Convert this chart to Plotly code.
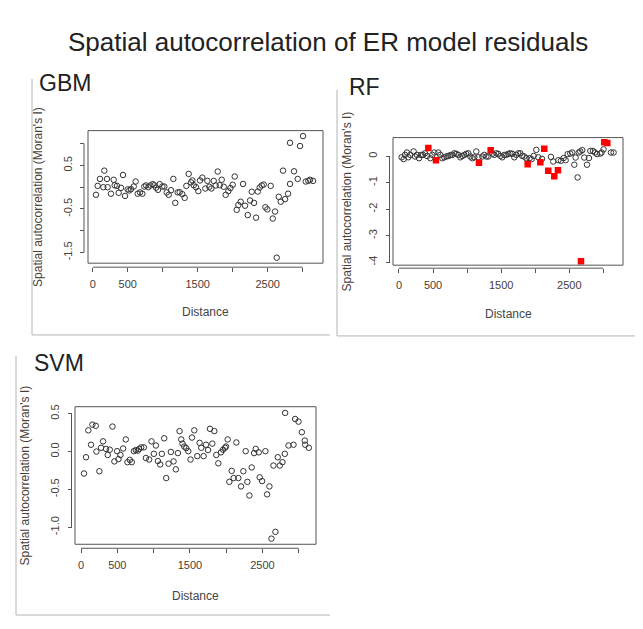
import plotly.graph_objects as go

# ---------------- data ----------------
gbm_dist = [47,71,104,152,166,204,214,261,300,314,347,371,404,433,462,500,523,547,586,614,
            643,676,709,737,762,795,823,857,880,905,933,957,995,1023,1057,1086,1119,1152,1180,1214,
            1243,1280,1314,1338,1371,1405,1424,1443,1476,1509,1533,1566,1609,1638,1666,1695,1729,1757,1786,1815,
            1843,1872,1900,1938,1967,2000,2029,2057,2081,2114,2148,2176,2215,2248,2272,2305,2334,2358,2386,2415,
            2443,2467,2495,2543,2572,2605,2629,2658,2686,2719,2748,2791,2819,2819,2876,2929,2962,3005,3044,3081,
            3105,3148]
gbm_moran = [-0.175,0.03,0.19,0.0,0.38,0.19,0.0,-0.15,0.17,0.045,0.03,-0.13,-0.015,0.28,-0.2,-0.05,-0.075,-0.045,0.015,0.13,
             -0.15,-0.12,-0.15,0.015,0.04,0.0,0.04,0.07,0.045,-0.01,-0.06,0.07,0.015,0.015,-0.12,-0.175,-0.07,0.19,-0.36,-0.12,
             -0.115,-0.16,-0.245,0.03,0.305,0.11,0.155,0.045,0.0,-0.09,0.155,0.22,-0.03,0.145,0.01,-0.03,0.145,0.04,0.36,0.045,
             0.17,0.01,-0.175,-0.09,-0.02,0.055,0.245,-0.52,-0.41,-0.335,0.075,-0.425,-0.64,-0.305,-0.105,-0.36,-0.70,-0.1,-0.007,0.04,
             0.06,-0.46,-0.51,0.03,-0.72,-0.56,-1.62,-0.22,-0.335,0.38,-0.275,-0.15,0.075,1.02,0.365,0.19,0.945,1.175,0.13,0.145,
             0.17,0.145]

rf_dist = [39,68,88,117,137,166,215,235,264,294,323,352,382,411,460,489,519,577,607,636,
           665,695,724,754,783,812,842,871,900,930,959,988,1018,1047,1077,1106,1135,1165,1223,1253,
           1282,1311,1370,1399,1429,1458,1488,1517,1546,1576,1605,1634,1664,1693,1722,1752,1781,1810,1840,1869,
           1918,1947,1977,2016,2045,2100,2231,2265,2339,2378,2417,2447,2476,2515,2544,2574,2593,2623,2640,2662,
           2691,2720,2760,2789,2809,2848,2877,2907,2956,2975,3004,3112,3151]
rf_moran = [-0.04,-0.11,0.05,0.14,-0.04,0.05,0.18,-0.01,0.05,-0.075,0.05,0.05,0.11,0.01,-0.075,0.05,0.14,0.14,0.05,-0.075,
            -0.04,-0.01,0.01,0.04,0.05,0.11,0.09,0.05,-0.04,0.01,0.05,0.09,0.11,-0.01,-0.075,-0.04,0.18,-0.04,-0.01,0.05,
            -0.01,-0.01,0.09,0.05,0.11,0.09,0.01,-0.04,0.05,0.05,0.09,0.11,0.09,-0.04,0.05,0.11,0.11,0.01,-0.01,-0.075,
            -0.075,-0.11,0.01,0.24,-0.04,-0.1,-0.024,-0.2,-0.15,-0.17,-0.07,-0.15,0.08,0.10,0.14,-0.32,-0.05,-0.80,0.14,0.18,
            0.23,-0.05,-0.32,-0.07,0.20,0.20,0.14,0.08,0.10,0.14,0.26,0.14,0.14]
rf_sig_dist = [431,543,1174,1346,1889,2075,2133,2192,2280,2334,2672,3014,3058]
rf_sig_moran = [0.315,-0.15,-0.25,0.225,-0.30,-0.225,0.28,-0.55,-0.76,-0.525,-3.96,0.53,0.50]

svm_dist = [41,69,101,138,157,203,212,253,276,304,345,368,396,433,460,497,516,543,580,617,
            640,672,700,728,755,783,801,829,866,894,939,971,1004,1032,1059,1091,1114,1146,1174,1206,
            1238,1275,1307,1335,1358,1381,1399,1422,1450,1478,1509,1529,1561,1602,1634,1657,1689,1722,1750,1777,
            1809,1837,1864,1892,1929,1957,1984,1998,2021,2044,2076,2103,2141,2168,2205,2237,2269,2292,2320,2352,
            2385,2407,2449,2462,2495,2541,2564,2596,2624,2652,2679,2711,2739,2776,2808,2813,2859,2928,2951,2997,
            3043,3084,3089,3139]
svm_moran = [-0.29,-0.075,0.28,0.09,0.355,0.34,0.0,-0.26,0.05,0.135,0.035,-0.045,0.025,0.33,-0.13,0.005,-0.1,-0.045,0.04,0.16,
             -0.14,-0.11,-0.14,0.005,0.02,0.013,0.035,0.055,0.055,-0.085,-0.105,0.135,-0.03,0.08,-0.125,-0.17,-0.03,0.175,-0.35,-0.16,
             -0.005,-0.13,-0.235,-0.02,0.27,0.16,0.105,0.066,0.045,0.005,-0.105,0.185,0.28,-0.06,0.115,0.05,-0.06,0.09,0.02,0.30,
             0.105,0.27,-0.045,-0.155,-0.01,0.025,0.05,0.066,0.16,-0.40,-0.255,-0.35,0.12,-0.35,-0.46,-0.26,0.005,-0.40,-0.58,-0.21,
             -0.02,0.035,-0.01,-0.34,-0.39,0.005,-0.565,-0.46,-1.15,-0.185,-1.06,-0.075,-0.185,-0.14,-0.03,0.51,0.08,0.09,0.43,0.395,
             0.255,0.145,0.09,0.05]

x_ticks = [0, 500, 1000, 1500, 2000, 2500, 3000]
x_ticktext = ["0", "500", "", "1500", "", "2500", ""]
gbm_yticks = [1.0, 0.5, 0.0, -0.5, -1.0, -1.5]
gbm_yticktext = ["", "0.5", "", "-0.5", "", "-1.5"]
rf_yticks = [0, -1, -2, -3, -4]
rf_yticktext = ["0", "-1", "-2", "-3", "-4"]
svm_yticks = [0.5, 0.0, -0.5, -1.0]
svm_yticktext = ["0.5", "0.0", "-0.5", "-1.0"]

title_text = "Spatial autocorrelation of ER model residuals"
ylab = "Spatial autocorrelation (Moran's I)"
xlab = "Distance"

# ---------------- layout helpers ----------------
# the page body has an 8px margin, so the figure starts at (8, 8) in the window
OFF = 8
W, H = 643 - OFF, 629 - OFF
def fx(p): return (p - OFF) / W
def fy(p): return 1 - (p - OFF) / H

FONT = "Liberation Sans, Arial, sans-serif"
TXT = "#4a4038"
AX = "#555555"

panels = [
    dict(name="GBM", s="", box=(88, 323, 129, 262), xr=[-67, 3290], yr=[-1.746, 1.30],
         xpos=266, ypos=84, yt=gbm_yticks, ytt=gbm_yticktext, lab=(37, 81),
         frame=((32, 77), (32, 334), (330, 334)), xtitle_y=311, ytitle_x=38),
    dict(name="RF", s="2", box=(393, 623, 136, 264), xr=[-88, 3289], yr=[-4.11, 0.703],
         xpos=267, ypos=389.5, yt=rf_yticks, ytt=rf_yticktext, lab=(347, 85),
         frame=((337, 88), (337, 335), (643, 335)), xtitle_y=313, ytitle_x=347),
    dict(name="SVM", s="3", box=(75, 316, 406, 544), xr=[-83, 3238], yr=[-1.224, 0.592],
         xpos=548, ypos=71.5, yt=svm_yticks, ytt=svm_yticktext, lab=(32, 362),
         frame=((16, 355), (16, 615), (330, 615)), xtitle_y=596, ytitle_x=25),
]

fig = go.Figure()

marker_circle = dict(symbol="circle-open", size=5.5, color="#333333", line=dict(width=1, color="#333333"))

fig.add_trace(go.Scatter(x=gbm_dist, y=gbm_moran, mode="markers", marker=marker_circle,
                         xaxis="x", yaxis="y", showlegend=False))
fig.add_trace(go.Scatter(x=rf_dist, y=rf_moran, mode="markers", marker=marker_circle,
                         xaxis="x2", yaxis="y2", showlegend=False))
fig.add_trace(go.Scatter(x=rf_sig_dist, y=rf_sig_moran, mode="markers",
                         marker=dict(symbol="square", size=6.5, color="#ff0000", line=dict(width=0)),
                         xaxis="x2", yaxis="y2", showlegend=False))
fig.add_trace(go.Scatter(x=svm_dist, y=svm_moran, mode="markers", marker=marker_circle,
                         xaxis="x3", yaxis="y3", showlegend=False))

shapes = []
annotations = []
layout_axes = {}
for p in panels:
    s = p["s"]
    x0, x1, y0, y1 = p["box"]
    xa = "x" + s
    ya = "y" + s
    layout_axes["xaxis" + s] = dict(
        domain=[fx(x0), fx(x1)], range=p["xr"], anchor="free", position=fy(p["xpos"]),
        tickvals=x_ticks, ticktext=x_ticktext, ticks="outside", ticklen=4, tickwidth=1,
        tickcolor=AX, showline=False, showgrid=False, zeroline=False,
        tickfont=dict(family=FONT, size=11, color=TXT), ticklabelstandoff=3,
    )
    layout_axes["yaxis" + s] = dict(
        domain=[fy(y1), fy(y0)], range=p["yr"], anchor="free", position=fx(p["ypos"]),
        tickvals=p["yt"], ticktext=p["ytt"], ticks="outside", ticklen=4, tickwidth=1,
        tickcolor=AX, showline=False, showgrid=False, zeroline=False, tickangle=-90,
        tickfont=dict(family=FONT, size=11, color=TXT), ticklabelstandoff=4,
    )
    shapes.append(dict(type="rect", xref=xa + " domain", yref=ya + " domain", x0=0, x1=1, y0=0, y1=1,
                       line=dict(color=AX, width=1)))
    shapes.append(dict(type="line", xref=xa, yref="paper", x0=min(x_ticks), x1=max(x_ticks),
                       y0=fy(p["xpos"]), y1=fy(p["xpos"]), line=dict(color=AX, width=1)))
    shapes.append(dict(type="line", xref="paper", yref=ya, x0=fx(p["ypos"]), x1=fx(p["ypos"]),
                       y0=min(p["yt"]), y1=max(p["yt"]), line=dict(color=AX, width=1)))
    (a, b), (c, d), (e, f) = p["frame"]
    shapes.append(dict(type="line", xref="paper", yref="paper", x0=fx(a), y0=fy(b), x1=fx(c), y1=fy(d),
                       line=dict(color="#b4b4b4", width=1)))
    shapes.append(dict(type="line", xref="paper", yref="paper", x0=fx(c), y0=fy(d), x1=fx(e), y1=fy(f),
                       line=dict(color="#b4b4b4", width=1)))
    annotations.append(dict(text=p["name"], x=fx(p["lab"][0]), y=fy(p["lab"][1]), xref="paper", yref="paper",
                            xanchor="left", yanchor="middle", showarrow=False,
                            font=dict(family=FONT, size=23, color="#222222")))
    annotations.append(dict(text=xlab, x=fx((x0 + x1) / 2), y=fy(p["xtitle_y"]), xref="paper", yref="paper",
                            xanchor="center", yanchor="middle", showarrow=False,
                            font=dict(family=FONT, size=12, color="#444444")))
    annotations.append(dict(text=ylab, x=fx(p["ytitle_x"]), y=fy((y0 + y1) / 2), xref="paper", yref="paper",
                            xanchor="center", yanchor="middle", showarrow=False, textangle=-90,
                            font=dict(family=FONT, size=12, color=TXT)))

annotations.append(dict(text=title_text, x=fx(328), y=fy(40), xref="paper", yref="paper",
                        xanchor="center", yanchor="middle", showarrow=False,
                        font=dict(family=FONT, size=26, color="#222222")))

fig.update_layout(
    width=W, height=H, margin=dict(l=0, r=0, t=0, b=0),
    paper_bgcolor="white", plot_bgcolor="white",
    shapes=shapes, annotations=annotations, **layout_axes,
)

fig.write_html("out.html")
